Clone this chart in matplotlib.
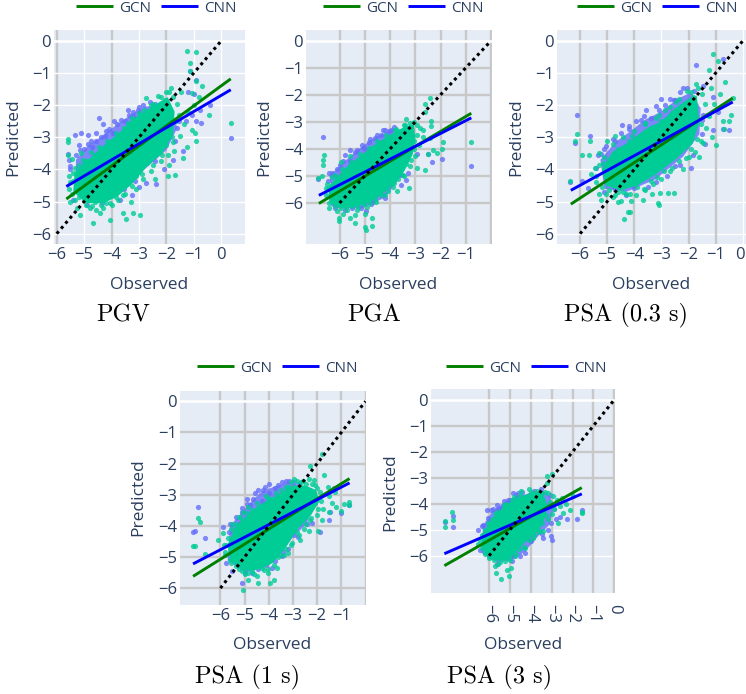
import matplotlib
matplotlib.use('Agg')
import matplotlib.pyplot as plt
from matplotlib.transforms import ScaledTranslation

W, H = 746, 694
GRAY = '#c8c8c8'
INK = '#2a3f5f'

plt.rcParams['font.family'] = ['Open Sans', 'DejaVu Sans']

# the dense middle of each cloud cannot be read point by point,
# so it is kept as an estimated outline, the rest are single points

# PGV
pgv_gcn_core = [(-5.35, -4.1), (-5.0, -3.8), (-4.6, -3.5), (-4.15, -3.15), (-3.7, -2.85), (-3.25, -2.45), (-2.8, -2.2),
                (-2.35, -1.95), (-1.95, -1.75), (-1.7, -2.2), (-1.75, -2.9), (-2.15, -3.5), (-2.7, -3.9), (-3.25, -4.45),
                (-3.8, -4.85), (-4.3, -5.05), (-4.9, -5.05), (-5.4, -4.7)]
pgv_cnn_core = [(-5.3, -3.7), (-4.85, -3.25), (-4.4, -3.0), (-3.8, -2.6), (-3.3, -2.3), (-2.8, -2.05), (-2.3, -2.0),
                (-1.8, -2.2), (-1.6, -2.7), (-2.0, -3.4), (-2.8, -4.0), (-3.5, -4.6), (-4.5, -5.0), (-5.3, -4.7)]
pgv_gcn = [(-1.23, -0.3), (-0.9, -0.33), (-1.15, -0.7), (-1.12, -0.93), (-0.9, -1.26), (-0.7, -1.4), (0.35, -2.54),
           (-0.44, -2.3), (-0.9, -3.13), (-1.08, -2.77), (-5.6, -3.05), (-5.6, -3.15), (-5.6, -3.55), (-4.67, -5.67),
           (-4.07, -5.56), (-3.58, -5.36), (-3.48, -5.53), (-3.2, -5.36), (-2.97, -5.41), (-4.55, -5.25),
           (-4.43, -5.35), (-5.16, -5.41), (-5.5, -5.0), (-5.35, -4.95), (-1.7, -4.17), (-1.94, -4.2), (-1.4, -3.65),
           (-1.72, -3.44), (-2.73, -1.78), (-2.0, -1.58), (-1.82, -1.47), (-1.45, -1.58), (-1.08, -1.63),
           (-5.45, -3.68), (-5.1, -3.5), (-5.0, -3.75), (-5.55, -4.6), (-5.4, -4.35), (-5.25, -5.2), (-4.95, -5.1),
           (-4.7, -5.15), (-4.3, -5.2), (-4.05, -5.05), (-3.75, -4.95), (-3.5, -4.75), (-3.1, -4.6), (-2.85, -4.3),
           (-2.55, -4.05), (-2.2, -3.75), (-1.95, -3.55), (-1.75, -3.15), (-1.5, -2.95), (-1.35, -2.6), (-1.55, -2.3),
           (-1.6, -1.95), (-2.3, -1.7), (-2.55, -2.0), (-3.0, -2.25), (-1.2, -2.2), (-1.0, -2.0), (-0.8, -1.75),
           (-1.9, -3.85), (-2.4, -4.3), (-3.3, -5.0), (-1.25, -3.3), (-0.95, -2.85)]
pgv_gcn_edge = [(-5.35, -3.95), (-5.2, -3.85), (-5.05, -3.7), (-4.9, -3.75), (-4.75, -3.45), (-4.6, -3.55),
                (-4.45, -3.3), (-4.3, -3.45), (-4.15, -3.1), (-4.0, -3.2), (-3.85, -2.85), (-3.7, -3.0), (-3.55, -2.7),
                (-3.4, -2.55), (-3.25, -2.4), (-3.1, -2.55), (-2.95, -2.3), (-2.8, -2.15), (-2.65, -2.25),
                (-2.5, -1.95), (-2.35, -2.1), (-2.2, -1.75), (-2.05, -1.85), (-1.9, -1.6), (-1.75, -1.75),
                (-1.65, -2.5), (-1.8, -3.0), (-2.0, -3.25), (-2.15, -3.55), (-2.35, -3.5), (-2.5, -3.85), (-2.7, -3.8),
                (-2.9, -4.15), (-3.1, -4.2), (-3.25, -4.5), (-3.45, -4.45), (-3.6, -4.8), (-3.85, -4.85), (-4.0, -5.1),
                (-4.2, -5.05), (-4.4, -5.1), (-4.6, -5.0), (-4.8, -5.2), (-5.0, -4.95), (-5.2, -4.85), (-5.45, -4.75),
                (-5.5, -4.4), (-5.55, -4.2), (-5.4, -4.1)]
pgv_cnn = [(-4.47, -2.4), (-3.4, -2.15), (-5.1, -2.85), (-5.34, -2.94), (-5.6, -3.51), (-4.85, -2.92), (-4.3, -2.6),
           (-3.9, -2.5), (-1.12, -0.93), (-0.9, -1.23), (-0.78, -2.15), (-0.42, -1.99), (-0.9, -2.5), (-0.72, -2.54),
           (-1.39, -3.44), (-2.73, -4.42), (-2.37, -4.45), (-4.9, -5.1), (-3.27, -4.79), (-5.4, -4.95), (0.35, -3.02),
           (-3.0, -2.05), (-3.2, -2.2), (-2.4, -1.95), (-5.2, -3.25), (-4.75, -3.1), (-4.55, -2.85), (-4.2, -2.8),
           (-5.5, -4.0), (-5.55, -3.7), (-1.3, -2.5), (-1.05, -2.3), (-1.6, -2.7), (-1.2, -1.6), (-1.0, -1.65),
           (-1.75, -3.7), (-2.1, -4.0), (-3.0, -4.55), (-3.7, -4.95), (-4.35, -5.05)]
pgv_cnn_edge = [(-5.3, -3.55), (-5.15, -3.4), (-5.0, -3.35), (-4.85, -3.2), (-4.7, -3.3), (-4.55, -3.1), (-4.4, -3.0),
                (-4.25, -2.95), (-4.1, -2.75), (-3.95, -2.85), (-3.8, -2.6), (-3.65, -2.45), (-3.5, -2.5), (-3.35, -2.3),
                (-3.2, -2.35), (-3.05, -2.15), (-2.85, -2.0), (-2.6, -1.9), (-1.55, -2.5), (-1.7, -3.1), (-2.4, -3.75),
                (-3.15, -4.35), (-3.55, -4.6), (-5.5, -3.9)]

# PGA
pga_gcn_core = [(-6.45, -5.4), (-6.0, -4.95), (-5.6, -4.55), (-5.15, -4.25), (-4.7, -3.9), (-4.2, -3.6), (-3.75, -3.35),
                (-3.35, -3.15), (-3.05, -3.1), (-3.0, -3.6), (-3.1, -4.2), (-3.45, -4.85), (-3.85, -5.3), (-4.35, -5.7),
                (-4.85, -6.0), (-5.4, -6.15), (-5.95, -6.2), (-6.4, -6.0)]
pga_cnn_core = [(-6.4, -5.0), (-5.85, -4.5), (-5.3, -4.05), (-4.8, -3.7), (-4.3, -3.45), (-3.85, -3.25), (-3.55, -3.6),
                (-3.3, -4.4), (-3.55, -5.0), (-4.2, -5.8), (-5.1, -6.2), (-6.2, -6.2)]
pga_gcn = [(-5.0, -6.88), (-4.96, -7.0), (-4.7, -6.57), (-4.71, -6.84), (-6.03, -6.57), (-6.02, -6.68), (-5.39, -6.73),
           (-5.6, -6.55), (-5.87, -6.4), (-2.41, -2.12), (-2.62, -2.33), (-2.6, -2.62), (-3.35, -2.9), (-2.36, -2.95),
           (-2.36, -3.17), (-2.82, -3.23), (-0.78, -3.73), (-1.9, -3.73), (-1.96, -4.0), (-2.3, -4.05), (-2.5, -4.18),
           (-2.62, -4.78), (-2.95, -4.72), (-3.24, -5.46), (-3.74, -5.56), (-6.62, -4.22), (-6.67, -4.41),
           (-6.65, -4.6), (-6.84, -5.06), (-6.7, -5.02), (-6.42, -6.2), (-6.3, -5.75), (-6.55, -5.45), (-6.1, -6.3),
           (-5.7, -6.25), (-5.3, -6.25), (-4.9, -6.15), (-4.55, -5.95), (-4.2, -5.7), (-3.9, -5.4), (-3.45, -5.0),
           (-3.2, -4.65), (-3.0, -4.25), (-2.85, -3.85), (-2.7, -3.55), (-2.95, -3.1), (-3.2, -3.05), (-3.45, -3.1),
           (-3.75, -3.25), (-5.95, -4.5), (-5.6, -4.25), (-6.2, -4.95), (-2.4, -3.6), (-2.15, -4.15), (-2.7, -3.3),
           (-3.05, -3.7), (-5.0, -6.4), (-5.4, -6.45)]
pga_gcn_edge = [(-6.5, -5.3), (-6.3, -5.05), (-6.1, -5.1), (-5.9, -4.75), (-5.75, -4.85), (-5.55, -4.5), (-5.35, -4.55),
                (-5.2, -4.2), (-5.0, -4.3), (-4.85, -3.95), (-4.65, -4.0), (-4.5, -3.7), (-4.3, -3.75), (-4.15, -3.5),
                (-3.95, -3.6), (-3.8, -3.3), (-3.6, -3.35), (-3.4, -3.1), (-3.2, -3.2), (-3.05, -3.0), (-2.95, -3.5),
                (-3.05, -4.0), (-3.15, -4.4), (-3.35, -4.55), (-3.5, -4.95), (-3.7, -5.1), (-3.85, -5.25), (-4.1, -5.55),
                (-4.35, -5.7), (-4.6, -5.85), (-4.8, -6.0), (-5.05, -6.05), (-5.25, -6.15), (-5.5, -6.1), (-5.75, -6.15),
                (-5.95, -6.2), (-6.2, -6.1), (-6.4, -6.0), (-6.55, -5.7), (-6.45, -5.5)]
pga_cnn = [(-6.67, -3.57), (-0.78, -4.63), (-1.96, -4.38), (-2.32, -4.47), (-2.5, -4.18), (-4.27, -3.3), (-5.79, -4.22),
           (-5.59, -4.04), (-6.84, -5.12), (-6.45, -5.2), (-4.69, -5.95), (-3.55, -5.33), (-3.35, -5.15), (-5.1, -3.85),
           (-4.8, -3.65), (-4.5, -3.5), (-4.2, -3.3), (-3.95, -3.3), (-3.75, -3.6), (-5.4, -4.1), (-6.0, -4.6),
           (-6.3, -4.9), (-3.3, -4.9), (-2.95, -4.2), (-4.95, -6.3), (-5.5, -6.2), (-6.25, -6.05)]
pga_cnn_edge = [(-6.4, -4.9), (-6.1, -4.75), (-5.85, -4.45), (-5.6, -4.45), (-5.3, -4.05), (-5.05, -3.95), (-4.85, -3.75),
                (-4.6, -3.6), (-4.35, -3.5), (-4.05, -3.35), (-3.85, -3.2), (-3.6, -3.6), (-3.35, -4.4), (-3.55, -4.95),
                (-4.2, -5.8), (-4.75, -6.05), (-5.15, -6.2), (-5.8, -6.25), (-6.2, -6.2)]

# PSA (0.3 s)
p03_gcn_core = [(-5.2, -4.0), (-4.8, -3.45), (-4.2, -3.15), (-3.6, -2.75), (-3.0, -2.5), (-2.5, -2.1), (-2.0, -1.8),
                (-1.7, -1.7), (-1.6, -2.5), (-1.85, -3.2), (-2.5, -3.7), (-3.2, -4.15), (-3.9, -4.5), (-4.5, -4.65),
                (-5.05, -4.5)]
p03_cnn_core = [(-5.25, -3.7), (-4.7, -3.15), (-4.2, -2.85), (-3.6, -2.45), (-3.0, -2.2), (-2.4, -1.8), (-1.9, -1.6),
                (-1.55, -2.1), (-1.6, -2.9), (-2.2, -3.6), (-3.2, -4.3), (-4.3, -4.7), (-5.1, -4.6)]
p03_gcn = [(-6.12, -2.89), (-6.18, -3.13), (-6.36, -4.37), (-5.63, -3.11), (-5.94, -3.54), (-5.68, -3.54),
           (-5.6, -4.15), (-4.39, -5.53), (-4.24, -5.31), (-4.15, -5.33), (-3.13, -5.05), (-3.07, -5.1), (-5.23, -4.94),
           (-2.76, -4.74), (-2.52, -4.72), (-3.05, -4.74), (-3.69, -4.94), (-4.49, -4.99), (-4.13, -4.99), (-1.08, -0.4),
           (-0.9, -0.62), (-1.23, -0.9), (-0.67, -1.28), (-1.17, -1.47), (-0.37, -1.78), (-0.45, -2.3), (-0.49, -2.48),
           (-0.98, -3.23), (-1.47, -3.18), (-0.74, -2.5), (-1.72, -1.33), (-5.4, -4.4), (-5.15, -3.8), (-5.05, -4.75),
           (-4.8, -4.85), (-4.6, -4.7), (-4.3, -4.75), (-3.95, -4.8), (-3.6, -4.65), (-3.3, -4.45), (-3.0, -4.3),
           (-2.7, -4.05), (-2.35, -3.75), (-2.0, -3.6), (-1.75, -3.45), (-1.55, -3.1), (-1.35, -2.7), (-1.25, -2.35),
           (-1.4, -1.95), (-1.5, -1.65), (-1.9, -1.6), (-2.35, -1.8), (-2.7, -2.05), (-3.1, -2.3), (-3.6, -2.55),
           (-4.1, -2.95), (-4.7, -2.95), (-5.0, -3.1), (-5.3, -3.5), (-1.05, -1.95), (-0.85, -1.65), (-1.15, -3.0),
           (-0.7, -2.75), (-1.6, -3.6), (-2.2, -4.0), (-3.35, -4.75), (-4.6, -5.0)]
p03_gcn_edge = [(-5.3, -3.85), (-5.1, -3.6), (-4.95, -3.7), (-4.8, -3.2), (-4.6, -3.35), (-4.4, -3.0), (-4.2, -3.1),
                (-4.0, -2.8), (-3.8, -2.95), (-3.6, -2.6), (-3.4, -2.7), (-3.2, -2.4), (-3.0, -2.5), (-2.85, -2.15),
                (-2.6, -2.25), (-2.45, -1.9), (-2.25, -2.05), (-2.05, -1.55), (-1.85, -1.75), (-1.65, -1.45),
                (-1.55, -2.6), (-1.7, -3.05), (-1.9, -3.35), (-2.1, -3.65), (-2.45, -3.55), (-2.6, -3.95), (-2.9, -4.05),
                (-3.15, -4.25), (-3.4, -4.35), (-3.65, -4.6), (-3.9, -4.55), (-4.15, -4.75), (-4.4, -4.7), (-4.7, -4.8),
                (-4.95, -4.65), (-5.2, -4.55), (-5.4, -4.2), (-5.45, -3.95), (-5.0, -4.35), (-5.3, -4.75)]
p03_cnn = [(-6.12, -2.3), (-1.72, -0.75), (-0.74, -0.57), (-5.63, -2.97), (-6.18, -3.18), (-6.36, -4.4), (-4.45, -2.62),
           (-3.56, -2.15), (-3.2, -2.04), (-3.01, -1.81), (-2.7, -1.8), (-0.49, -2.77), (-0.74, -2.75), (-1.1, -2.77),
           (-1.9, -3.94), (-1.3, -2.3), (-5.94, -4.37), (-5.72, -4.58), (-5.23, -3.51), (-5.04, -3.28), (-4.0, -4.58),
           (-2.21, -1.47), (-2.5, -1.85), (-3.75, -2.45), (-4.2, -2.65), (-4.7, -3.1), (-1.45, -1.4), (-1.1, -1.75),
           (-1.5, -2.45), (-1.4, -3.2), (-2.5, -3.9), (-3.2, -4.4), (-4.7, -4.6), (-5.4, -3.95), (-0.9, -2.2)]
p03_cnn_edge = [(-5.35, -3.55), (-5.1, -3.35), (-4.8, -3.05), (-4.5, -2.85), (-4.2, -2.75), (-3.95, -2.5), (-3.65, -2.35),
                (-3.4, -2.4), (-3.1, -2.15), (-2.85, -2.0), (-2.55, -1.85), (-2.3, -1.6), (-2.05, -1.45), (-1.8, -1.55),
                (-1.45, -2.3), (-1.5, -2.9), (-1.85, -3.55), (-2.3, -3.85), (-2.8, -4.2), (-3.5, -4.55), (-4.3, -4.8),
                (-5.1, -4.7)]

# PSA (1 s)
p1_gcn_core = [(-5.7, -4.6), (-5.4, -4.05), (-4.95, -3.7), (-4.5, -3.4), (-4.0, -3.15), (-3.5, -2.95), (-3.0, -2.7),
               (-2.5, -2.7), (-2.05, -2.85), (-1.9, -3.2), (-2.25, -3.65), (-2.85, -4.15), (-3.3, -4.7), (-3.85, -5.2),
               (-4.4, -5.4), (-5.0, -5.45), (-5.6, -5.1)]
p1_cnn_core = [(-5.6, -4.0), (-5.15, -3.6), (-4.7, -3.2), (-4.3, -2.9), (-3.8, -2.75), (-3.2, -2.6), (-2.7, -2.7),
               (-2.2, -2.95), (-2.1, -3.3), (-2.45, -3.95), (-3.0, -4.35), (-3.5, -4.9), (-4.2, -5.35), (-5.0, -5.5),
               (-5.7, -5.1)]
p1_gcn = [(-6.91, -3.74), (-6.84, -3.86), (-7.15, -4.66), (-7.05, -4.66), (-6.64, -4.9), (-6.08, -4.45), (-5.88, -4.24),
          (-5.07, -6.05), (-4.84, -5.75), (-4.43, -5.82), (-3.94, -5.84), (-3.8, -5.73), (-4.5, -5.6), (-4.05, -5.5),
          (-3.67, -5.36), (-4.2, -5.42), (-3.22, -4.88), (-1.8, -1.7), (-2.31, -2.08), (-2.12, -2.53), (-1.73, -2.37),
          (-0.67, -3.22), (-0.67, -3.33), (-0.9, -3.31), (-1.0, -3.51), (-1.38, -3.27), (-1.52, -3.54), (-1.8, -3.8),
          (-2.35, -4.18), (-2.7, -4.45), (-2.95, -2.48), (-2.32, -2.48), (-5.2, -3.7), (-5.5, -3.95), (-5.75, -4.6),
          (-5.8, -4.95), (-5.55, -5.2), (-5.25, -5.4), (-5.0, -5.55), (-4.7, -5.45), (-3.6, -5.0), (-3.35, -4.95),
          (-3.05, -4.55), (-2.75, -4.3), (-2.45, -3.95), (-2.0, -3.65), (-1.75, -3.45), (-1.5, -3.05), (-1.25, -2.9),
          (-1.55, -2.75), (-1.9, -2.9), (-2.1, -2.7), (-2.6, -2.55), (-3.2, -2.75), (-4.05, -3.1), (-1.2, -3.4),
          (-4.85, -3.4), (-5.05, -3.55), (-2.3, -3.8), (-1.95, -4.15)]
p1_gcn_edge = [(-5.7, -4.4), (-5.55, -4.1), (-5.35, -3.95), (-5.25, -3.7), (-5.1, -3.85), (-4.9, -3.6), (-4.7, -3.5),
               (-4.5, -3.25), (-4.3, -3.35), (-4.1, -3.05), (-3.9, -3.15), (-3.7, -2.95), (-3.5, -2.85), (-3.3, -2.75),
               (-3.1, -2.6), (-2.85, -2.55), (-2.65, -2.6), (-2.45, -2.65), (-2.2, -2.65), (-2.0, -2.8), (-1.85, -3.2),
               (-1.95, -3.45), (-2.25, -3.75), (-2.55, -4.1), (-2.85, -4.2), (-3.1, -4.6), (-3.3, -4.75), (-3.55, -4.95),
               (-3.8, -5.25), (-4.05, -5.4), (-4.3, -5.35), (-4.6, -5.55), (-4.85, -5.5), (-5.1, -5.45), (-5.35, -5.3),
               (-5.6, -5.1), (-5.8, -4.85), (-5.85, -4.6)]
p1_cnn = [(-6.91, -3.38), (-7.15, -4.2), (-7.03, -4.18), (-6.64, -4.4), (-0.67, -3.33), (-1.0, -3.6), (-1.87, -4.2),
          (-1.52, -3.81), (-5.12, -3.44), (-4.77, -3.33), (-4.15, -2.74), (-4.01, -2.96), (-3.6, -2.69), (-5.12, -5.84),
          (-5.53, -5.46), (-4.7, -5.5), (-3.73, -5.14), (-3.46, -4.98), (-5.2, -3.95), (-5.88, -4.02), (-4.55, -2.95),
          (-4.9, -3.15), (-4.3, -3.2), (-3.3, -2.55), (-2.95, -2.6), (-1.3, -2.8), (-1.45, -3.55), (-2.2, -3.9),
          (-2.8, -4.35), (-3.2, -4.75), (-4.1, -5.25), (-5.3, -5.2), (-5.65, -4.2)]
p1_cnn_edge = [(-5.6, -3.95), (-5.35, -3.7), (-5.1, -3.55), (-4.9, -3.3), (-4.65, -3.15), (-4.45, -2.85), (-4.25, -2.85),
               (-4.0, -2.65), (-3.75, -2.8), (-3.45, -2.6), (-3.15, -2.55), (-2.75, -2.65), (-2.3, -2.85), (-2.1, -3.25),
               (-2.4, -3.95), (-2.95, -4.3), (-3.4, -4.85), (-3.85, -5.35), (-4.45, -5.4), (-5.0, -5.5), (-5.75, -5.2)]

# PSA (3 s)
p3_gcn_core = [(-6.35, -5.25), (-6.05, -4.8), (-5.7, -4.45), (-5.3, -4.1), (-4.9, -3.9), (-4.4, -3.7), (-3.85, -3.55),
               (-3.4, -3.6), (-3.2, -4.1), (-3.3, -4.5), (-3.6, -5.0), (-4.1, -5.35), (-4.55, -5.7), (-5.0, -6.1),
               (-5.5, -6.2), (-6.0, -6.05), (-6.35, -5.7)]
p3_cnn_core = [(-6.3, -4.85), (-5.85, -4.3), (-5.3, -3.95), (-4.7, -3.7), (-4.0, -3.6), (-3.4, -3.5), (-3.05, -3.75),
               (-2.95, -4.3), (-3.1, -4.8), (-3.6, -5.2), (-4.3, -5.85), (-4.9, -6.15), (-5.6, -6.25), (-6.35, -5.9)]
p3_gcn = [(-7.79, -4.3), (-7.71, -4.62), (-8.12, -4.68), (-8.12, -4.9), (-6.51, -5.54), (-5.67, -6.66), (-5.44, -6.89),
          (-5.03, -6.76), (-5.15, -6.53), (-5.71, -6.41), (-4.96, -6.47), (-5.55, -6.3), (-3.24, -2.95), (-3.0, -2.85),
          (-3.24, -3.2), (-1.57, -4.3), (-1.57, -4.36), (-2.12, -4.23), (-2.44, -4.36), (-2.71, -4.74), (-2.9, -4.2),
          (-2.92, -3.72), (-3.4, -5.06), (-1.96, -3.72), (-2.5, -3.78), (-6.3, -5.2), (-6.1, -5.0), (-6.2, -5.85),
          (-5.9, -6.05), (-5.1, -6.1), (-4.7, -5.95), (-4.3, -5.7), (-3.9, -5.3), (-3.6, -5.1), (-3.2, -4.6),
          (-3.0, -4.4), (-3.1, -3.95), (-3.2, -3.6), (-3.55, -3.6), (-4.0, -3.55), (-4.45, -3.5), (-4.8, -3.75),
          (-5.2, -4.0), (-5.6, -4.3), (-2.6, -4.1), (-2.3, -4.0), (-2.75, -3.85)]
p3_gcn_edge = [(-6.35, -5.2), (-6.2, -5.0), (-6.05, -4.75), (-5.85, -4.6), (-5.7, -4.4), (-5.5, -4.35), (-5.3, -4.05),
               (-5.1, -4.05), (-4.9, -3.85), (-4.7, -3.8), (-4.5, -3.65), (-4.3, -3.75), (-4.1, -3.45), (-3.9, -3.6),
               (-3.7, -3.5), (-3.5, -3.6), (-3.3, -3.55), (-3.2, -4.1), (-3.25, -4.45), (-3.45, -4.75), (-3.6, -5.05),
               (-3.85, -5.2), (-4.1, -5.4), (-4.35, -5.65), (-4.55, -5.75), (-4.75, -6.0), (-5.0, -6.15), (-5.25, -6.2),
               (-5.5, -6.25), (-5.75, -6.15), (-6.0, -6.1), (-6.2, -5.95), (-6.35, -5.7), (-6.45, -5.4)]
p3_cnn = [(-7.71, -4.46), (-7.71, -4.91), (-8.12, -4.72), (-1.57, -4.23), (-1.81, -4.58), (-2.28, -4.58), (-3.0, -5.38),
          (-3.05, -5.23), (-6.11, -4.23), (-6.35, -4.87), (-4.84, -3.59), (-5.4, -4.15), (-4.52, -6.02), (-4.2, -5.3),
          (-3.4, -5.3), (-6.43, -5.77), (-2.6, -4.5), (-5.9, -4.25), (-5.6, -4.05), (-5.1, -3.85), (-4.6, -3.6),
          (-3.85, -3.5), (-2.8, -4.6), (-3.2, -5.0), (-4.8, -6.0), (-6.0, -6.0), (-6.55, -5.0)]
p3_cnn_edge = [(-6.3, -4.8), (-6.05, -4.55), (-5.8, -4.2), (-5.55, -4.2), (-5.3, -3.9), (-5.0, -3.85), (-4.7, -3.65),
               (-4.4, -3.55), (-4.1, -3.65), (-3.5, -3.45), (-3.1, -3.65), (-2.9, -4.2), (-3.05, -4.75), (-3.45, -5.15),
               (-4.0, -5.45), (-4.3, -5.9), (-4.9, -6.2), (-5.6, -6.3)]

# regression line ends and tick values
line_x = [(-5.65, 0.35), (-6.82, -0.78), (-6.34, -0.37), (-7.13, -0.66), (-8.14, -1.56)]
gcn_y = [(-4.92, -1.18), (-6.02, -2.68), (-5.08, -1.78), (-5.62, -2.48), (-6.38, -3.38)]
cnn_y = [(-4.53, -1.52), (-5.72, -2.85), (-4.65, -1.9), (-5.22, -2.62), (-5.92, -3.62)]
diag = [-6, 0]

titles = ['PGV', 'PGA', 'PSA (0.3 s)', 'PSA (1 s)', 'PSA (3 s)']
xticks = [[-6, -5, -4, -3, -2, -1, 0], [-6, -5, -4, -3, -2, -1], [-6, -5, -4, -3, -2, -1, 0],
          [-6, -5, -4, -3, -2, -1], [-6, -5, -4, -3, -2, -1, 0]]
yticks = [0, -1, -2, -3, -4, -5, -6]

gcn_clouds = [pgv_gcn + pgv_gcn_edge, pga_gcn + pga_gcn_edge, p03_gcn + p03_gcn_edge, p1_gcn + p1_gcn_edge,
              p3_gcn + p3_gcn_edge]
cnn_clouds = [pgv_cnn + pgv_cnn_edge, pga_cnn + pga_cnn_edge, p03_cnn + p03_cnn_edge, p1_cnn + p1_cnn_edge,
              p3_cnn + p3_cnn_edge]
gcn_cores = [pgv_gcn_core, pga_gcn_core, p03_gcn_core, p1_gcn_core, p3_gcn_core]
cnn_cores = [pgv_cnn_core, pga_cnn_core, p03_cnn_core, p1_cnn_core, p3_cnn_core]

# layout of each panel in pixels of the figure
boxes = [(54, 30, 245, 244), (306, 30, 492, 244), (557, 30, 746, 244), (180, 391, 366, 605), (431, 389, 615, 593)]
xlims = [(-6.1, 0.87), (-7.33, 0.04), (-6.85, 0.12), (-7.67, 0.02), (-8.78, 0.03)]
ylims = [(-6.32, 0.34), (-7.52, 0.4), (-6.32, 0.34), (-6.54, 0.33), (-7.43, 0.41)]
legend_pos = [(76, 8), (323, 8), (577, 8), (197, 368), (446, 368)]
obs_pos = [(149, 285), (398, 285), (651, 285), (272, 645), (523, 645)]
pred_pos = [(13, 137), (264, 137), (516, 137), (138, 497), (390, 492)]
title_pos = [(123, 315), (374, 315), (626, 315), (248, 677), (500, 677)]
# grid colours per panel, the gray ones come from the panel underneath in the original
xgrid_gray = [[-6, -4, -2], [-6, -5, -4, -3, -2, -1, 0], [-6, -5, -4, -2, -1], [-6, -5, -4, -3, -2, -1, 0],
              [-6, -5, -4, -3, -2, -1, 0]]
ygrid_gray = [[], [-1, -2, -3, -4, -5, -6], [], [-1, -2, -3, -4, -5, -6], [-1, -2, -3, -4]]


def unzip(points):
    return [p[0] for p in points], [p[1] for p in points]


def draw_grid(ax, i):
    for t in [-6, -5, -4, -3, -2, -1, 0]:
        if t in xgrid_gray[i]:
            ax.axvline(t, color=GRAY, lw=1.7, zorder=1)
        else:
            ax.axvline(t, color='white', lw=1, zorder=1)
        if t == 0:
            ax.axhline(t, color='white', lw=1.8, zorder=1)
        elif t in ygrid_gray[i]:
            ax.axhline(t, color=GRAY, lw=1.7, zorder=1)
        else:
            ax.axhline(t, color='white', lw=1, zorder=1)


fig = plt.figure(figsize=(W / 100, H / 100), dpi=100)

for i in range(5):
    l, t, r, b = boxes[i]
    ax = fig.add_axes([l / W, 1 - b / H, (r - l) / W, (b - t) / H])
    ax.set_facecolor('#e5ecf6')
    for s in ax.spines.values():
        s.set_visible(False)
    draw_grid(ax, i)

    ax.fill(*unzip(cnn_cores[i]), color='#636efa', lw=0, alpha=0.8, zorder=2)
    x, y = unzip(cnn_clouds[i])
    ax.scatter(x, y, s=14, color='#636efa', alpha=0.8, linewidths=0, zorder=2)
    ax.fill(*unzip(gcn_cores[i]), color='#00cc96', lw=0, zorder=3)
    x, y = unzip(gcn_clouds[i])
    ax.scatter(x, y, s=14, color='#00cc96', alpha=0.8, linewidths=0, zorder=3)

    h1, = ax.plot(line_x[i], gcn_y[i], color='green', lw=2.1, zorder=4, solid_capstyle='butt')
    h2, = ax.plot(line_x[i], cnn_y[i], color='blue', lw=2.1, zorder=5, solid_capstyle='butt')
    ax.plot(diag, diag, color='black', lw=2.2, ls=(0, (1, 1.2)), zorder=6)

    ax.set_xlim(xlims[i])
    ax.set_ylim(ylims[i])
    ax.set_xticks(xticks[i])
    ax.set_xticklabels(['\u2212%d' % -v if v else '0' for v in xticks[i]])
    ax.set_yticks(yticks)
    ax.set_yticklabels(['\u2212%d' % -v if v else '0' for v in yticks])
    ax.tick_params(length=0, labelsize=12, labelcolor=INK, pad=2)
    if i == 4:
        ax.tick_params(axis='x', labelrotation=-90, pad=8)
    if i == 2:
        # the 0 sits right at the edge of the picture, nudge it inside
        lab = ax.get_xticklabels()[-1]
        lab.set_transform(lab.get_transform() + ScaledTranslation(-2 / 72, 0, fig.dpi_scale_trans))

    px, py = legend_pos[i]
    ax.legend([h1, h2], ['GCN', 'CNN'], ncol=2, frameon=False, loc='center left',
              bbox_to_anchor=(px / W, 1 - py / H), bbox_transform=fig.transFigure,
              fontsize=11, labelcolor=INK, borderpad=0, borderaxespad=0,
              handlelength=2.4, handletextpad=0.4, columnspacing=0.7)

    px, py = obs_pos[i]
    fig.text(px / W, 1 - py / H, 'Observed', fontsize=12.5, color=INK, ha='center', va='center')
    px, py = pred_pos[i]
    fig.text(px / W, 1 - py / H, 'Predicted', fontsize=12.5, color=INK, ha='center', va='center', rotation=90)
    px, py = title_pos[i]
    fig.text(px / W, 1 - py / H, titles[i], fontsize=17.5, family='cmr10', color='black', ha='center', va='center')

fig.savefig('out.png', dpi=100)
